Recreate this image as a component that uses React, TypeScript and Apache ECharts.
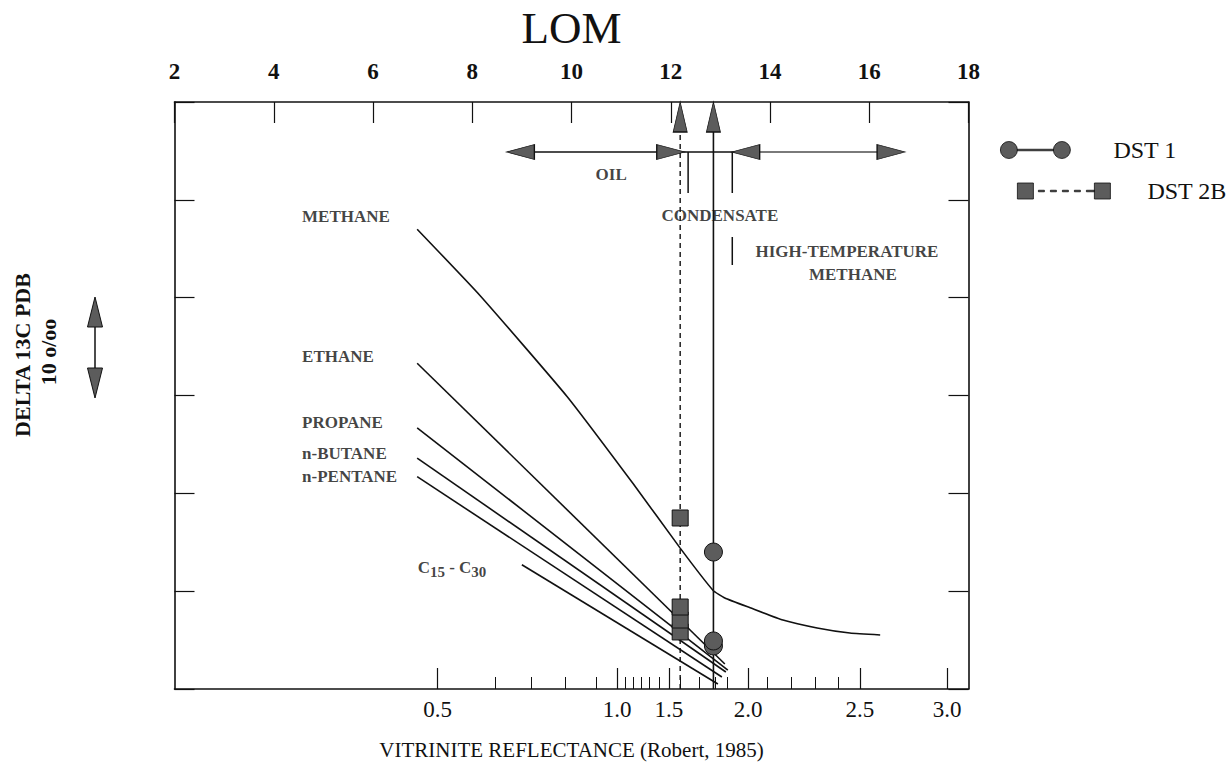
import React, { useEffect, useRef } from "react";
import * as echarts from "echarts";

// ---- Axes ----
// LOM (top, linear) and vitrinite reflectance (bottom, placed at its LOM equivalent)
const roMajorLom = [7.3, 10.92, 11.96, 13.56, 15.81, 17.57];
const roMajorLabels = ["0.5", "1.0", "1.5", "2.0", "2.5", "3.0"];
const roMinorLom = [8.47, 9.19, 9.87, 10.5, 11.08, 11.24, 11.4, 11.56, 11.77, 12.19, 12.57, 12.89, 13.13, 13.95, 14.43, 14.91, 15.37];

// ---- Isotope curves (relative delta 13C, 10 units = 10 o/oo) ----
const methaneLom = [6.89, 8.16, 9.91, 11.24, 12.19, 12.85, 13.09, 13.6, 14.26, 14.95, 15.61, 16.22];
const methaneDelta = [47.0, 40.2, 29.9, 21.0, 14.4, 10.1, 9.3, 8.3, 7.05, 6.24, 5.72, 5.52];
const ethaneLom = [6.89, 13.09];
const ethaneDelta = [33.3, 2.56];
const propaneLom = [6.89, 13.15];
const propaneDelta = [26.7, 1.94];
const butaneLom = [6.89, 13.11];
const butaneDelta = [23.6, 1.74];
const pentaneLom = [6.89, 13.03];
const pentaneDelta = [21.7, 1.23];
const c15Lom = [9.0, 12.95];
const c15Delta = [12.7, 0.51];

// ---- Measured samples ----
const dst1Lom = 12.86;
const dst1Delta = [4.4, 4.91, 14.0];
const dst2bLom = 12.19;
const dst2bDelta = [5.83, 7.05, 8.38, 17.48];
const arrowTipDelta = 58.47;

// ---- Labels ----
const curveLabelNames = ["METHANE", "ETHANE", "PROPANE", "n-BUTANE", "n-PENTANE"];
const curveLabelLom = [4.57, 4.57, 4.57, 4.57, 4.57];
const curveLabelDelta = [48.25, 33.94, 27.29, 24.12, 21.77];
const c15LabelPos = [6.9, 12.47];

const zoneLabelNames = ["OIL", "CONDENSATE", "HIGH-TEMPERATURE", "METHANE"];
const zoneLabelLom = [10.8, 12.99, 15.55, 15.67];
const zoneLabelDelta = [52.54, 48.35, 44.67, 42.32];

// ---- Maturity zone arrows ----
const zoneLevel = 54.89;
const oilArrow = [8.97, 12.0];
const condensateSpan = [12.0, 13.51];
const htArrow = [13.51, 16.44];
const condensateDrops = [12.35, 13.24];
const dropBottom = 50.7;
const htBar = [13.24, 46.2, 43.34];

const serif = '"Liberation Serif", "DejaVu Serif", serif';
const ink = "#111";
const hatch = "#5c5c5c";

const curve = (name: string, xs: number[], ys: number[]) => ({
  type: "line",
  name,
  data: xs.map((x, i) => [x, ys[i]]),
  symbol: "none",
  showSymbol: false,
  smooth: 0.15,
  lineStyle: { color: ink, width: 1.6 },
  silent: true,
  z: 3,
});

const segment = (pts: number[][], color = ink, width = 1.5) => ({
  type: "line",
  data: pts,
  symbol: "none",
  showSymbol: false,
  lineStyle: { color, width },
  silent: true,
  z: 3,
});

const arrowHead = (rot: number) => ({
  symbol: "triangle",
  symbolSize: [15, 28],
  symbolRotate: rot,
});

export default function App() {
  const ref = useRef<HTMLDivElement>(null);

  useEffect(() => {
    document.body.style.margin = "0";
    if (!ref.current) return;
    const chart = echarts.init(ref.current, null, { renderer: "svg" });

    const dst1Icon =
      "path://M0,8.5a8.5,8.5 0 1,0 17,0a8.5,8.5 0 1,0 -17,0Z M53,8.5a8.5,8.5 0 1,0 17,0a8.5,8.5 0 1,0 -17,0Z M17,7.75h36v1.5h-36Z";
    const dst2bIcon =
      "path://M0,0h16v16h-16Z M77,0h16v16h-16Z M21,7.25h6v1.5h-6Z M33,7.25h6v1.5h-6Z M45,7.25h6v1.5h-6Z M57,7.25h6v1.5h-6Z M69,7.25h8v1.5h-8Z";

    const option: any = {
      animation: false,
      backgroundColor: "#fff",
      grid: { left: 174.5, right: 261.5, top: 102, bottom: 89, containLabel: false, outerBoundsMode: "none" },
      legend: [
        {
          data: [{ name: "DST 1", icon: dst1Icon }],
          left: 995,
          top: 133,
          itemWidth: 70,
          itemHeight: 17,
          selectedMode: false,
          itemStyle: { color: hatch, borderColor: ink, borderWidth: 0.8 },
          textStyle: { fontFamily: serif, fontSize: 24, color: ink, padding: [0, 0, 0, 38] },
        },
        {
          data: [{ name: "DST 2B", icon: dst2bIcon }],
          left: 1012,
          top: 174,
          itemWidth: 93,
          itemHeight: 16,
          selectedMode: false,
          itemStyle: { color: hatch, borderColor: ink, borderWidth: 0.8 },
          textStyle: { fontFamily: serif, fontSize: 24, color: ink, padding: [0, 0, 0, 32] },
        },
      ],
      xAxis: [
        {
          type: "value",
          position: "top",
          min: 2,
          max: 18,
          interval: 2,
          name: "LOM",
          nameLocation: "middle",
          nameGap: 52,
          nameTextStyle: { fontFamily: serif, fontSize: 45, color: ink },
          axisLine: { show: true, onZero: false, lineStyle: { color: ink, width: 1.6 } },
          axisTick: { show: true, inside: true, length: 21, lineStyle: { color: ink, width: 1.2 } },
          axisLabel: { show: true, margin: 19, fontFamily: serif, fontSize: 23, fontWeight: "bold", color: ink },
          splitLine: { show: false },
        },
        {
          type: "value",
          position: "bottom",
          min: 2,
          max: 18,
          name: "VITRINITE REFLECTANCE (Robert, 1985)",
          nameLocation: "middle",
          nameGap: 50,
          nameTextStyle: { fontFamily: serif, fontSize: 21, color: ink },
          axisLine: { show: true, onZero: false, lineStyle: { color: ink, width: 1.6 } },
          axisTick: {
            show: true,
            inside: true,
            length: 21,
            customValues: roMajorLom,
            lineStyle: { color: ink, width: 1.2 },
          },
          axisLabel: {
            show: true,
            margin: 9,
            customValues: roMajorLom,
            fontFamily: serif,
            fontSize: 23,
            color: ink,
            formatter: (v: number) => {
              let best = 0;
              roMajorLom.forEach((m, i) => {
                if (Math.abs(m - v) < Math.abs(roMajorLom[best] - v)) best = i;
              });
              return roMajorLabels[best];
            },
          },
          splitLine: { show: false },
        },
        {
          type: "value",
          position: "bottom",
          offset: 0,
          min: 2,
          max: 18,
          axisLine: { show: false, onZero: false },
          axisTick: {
            show: true,
            inside: true,
            length: 12,
            customValues: roMinorLom,
            lineStyle: { color: ink, width: 1 },
          },
          axisLabel: { show: false },
          splitLine: { show: false },
        },
      ],
      yAxis: [
        {
          type: "value",
          position: "left",
          min: 0,
          max: 60,
          interval: 10,
          axisLine: { show: true, onZero: false, lineStyle: { color: ink, width: 1.6 } },
          axisTick: { show: true, inside: true, length: 20, lineStyle: { color: ink, width: 1.2 } },
          axisLabel: { show: false },
          splitLine: { show: false },
        },
        {
          type: "value",
          position: "right",
          min: 0,
          max: 60,
          interval: 10,
          axisLine: { show: true, onZero: false, lineStyle: { color: ink, width: 1.6 } },
          axisTick: { show: true, inside: true, length: 20, lineStyle: { color: ink, width: 1.2 } },
          axisLabel: { show: false },
          splitLine: { show: false },
        },
      ],
      graphic: [
        {
          type: "text",
          x: 22,
          y: 355,
          rotation: Math.PI / 2,
          style: {
            text: "DELTA 13C PDB",
            fontFamily: serif,
            fontSize: 22,
            fontWeight: "bold",
            fill: ink,
            align: "center",
            verticalAlign: "middle",
          },
        },
        {
          type: "text",
          x: 48,
          y: 352,
          rotation: Math.PI / 2,
          style: {
            text: "10 o/oo",
            fontFamily: serif,
            fontSize: 22,
            fontWeight: "bold",
            fill: ink,
            align: "center",
            verticalAlign: "middle",
          },
        },
        { type: "line", shape: { x1: 95, y1: 320, x2: 95, y2: 375 }, style: { stroke: ink, lineWidth: 1.5 } },
        {
          type: "polygon",
          shape: { points: [[95, 297], [87.5, 327], [102.5, 327]] },
          style: { fill: hatch, stroke: ink, lineWidth: 1 },
        },
        {
          type: "polygon",
          shape: { points: [[95, 398], [87.5, 368], [102.5, 368]] },
          style: { fill: hatch, stroke: ink, lineWidth: 1 },
        },
      ],
      series: [
        curve("methane", methaneLom, methaneDelta),
        curve("ethane", ethaneLom, ethaneDelta),
        curve("propane", propaneLom, propaneDelta),
        curve("butane", butaneLom, butaneDelta),
        curve("pentane", pentaneLom, pentaneDelta),
        curve("c15", c15Lom, c15Delta),
        // zone arrows
        {
          type: "line",
          data: [
            { value: [oilArrow[0], zoneLevel], ...arrowHead(90) },
            { value: [oilArrow[1], zoneLevel], ...arrowHead(-90) },
          ],
          showSymbol: true,
          lineStyle: { color: ink, width: 1.5 },
          itemStyle: { color: hatch, borderColor: ink, borderWidth: 1 },
          silent: true,
          z: 4,
        },
        segment([
          [condensateSpan[0], zoneLevel],
          [condensateSpan[1], zoneLevel],
        ]),
        {
          type: "line",
          data: [
            { value: [htArrow[0], zoneLevel], ...arrowHead(90) },
            { value: [htArrow[1], zoneLevel], ...arrowHead(-90) },
          ],
          showSymbol: true,
          lineStyle: { color: "#7a7a7a", width: 2 },
          itemStyle: { color: hatch, borderColor: ink, borderWidth: 1 },
          silent: true,
          z: 4,
        },
        segment([
          [condensateDrops[0], zoneLevel],
          [condensateDrops[0], dropBottom],
        ]),
        segment([
          [condensateDrops[1], zoneLevel],
          [condensateDrops[1], dropBottom],
        ]),
        segment([
          [htBar[0], htBar[1]],
          [htBar[0], htBar[2]],
        ]),
        // curve labels
        {
          type: "scatter",
          symbolSize: 0,
          silent: true,
          data: curveLabelNames.map((n, i) => ({ name: n, value: [curveLabelLom[i], curveLabelDelta[i]] })),
          label: {
            show: true,
            position: "right",
            distance: 0,
            formatter: "{b}",
            fontFamily: serif,
            fontSize: 17,
            fontWeight: "bold",
            color: ink,
          },
        },
        {
          type: "scatter",
          symbolSize: 0,
          silent: true,
          data: [{ name: "C15 - C30", value: c15LabelPos }],
          label: {
            show: true,
            position: "right",
            distance: 0,
            formatter: "{m|C}{s|15}{m| - C}{s|30}",
            rich: {
              m: { fontFamily: serif, fontSize: 17, fontWeight: "bold", color: ink, lineHeight: 24, verticalAlign: "middle" },
              s: { fontFamily: serif, fontSize: 15, fontWeight: "bold", color: ink, lineHeight: 14, verticalAlign: "bottom" },
            },
          },
        },
        {
          type: "scatter",
          symbolSize: 0,
          silent: true,
          data: zoneLabelNames.map((n, i) => ({ name: n, value: [zoneLabelLom[i], zoneLabelDelta[i]] })),
          label: {
            show: true,
            position: "inside",
            formatter: "{b}",
            fontFamily: serif,
            fontSize: 17,
            fontWeight: "bold",
            color: ink,
          },
        },
        // samples
        {
          name: "DST 1",
          type: "line",
          data: [
            { value: [dst1Lom, 0], symbol: "none" },
            ...dst1Delta.map((v) => ({ value: [dst1Lom, v] })),
            { value: [dst1Lom, arrowTipDelta], symbol: "triangle", symbolSize: [14, 30] },
          ],
          symbol: "circle",
          symbolSize: 18,
          showSymbol: true,
          lineStyle: { color: ink, width: 1.6 },
          itemStyle: { color: hatch, borderColor: ink, borderWidth: 1 },
          z: 6,
        },
        {
          name: "DST 2B",
          type: "line",
          data: [
            { value: [dst2bLom, 0], symbol: "none" },
            ...dst2bDelta.map((v) => ({ value: [dst2bLom, v] })),
            { value: [dst2bLom, arrowTipDelta], symbol: "triangle", symbolSize: [14, 30] },
          ],
          symbol: "rect",
          symbolSize: 16,
          showSymbol: true,
          lineStyle: { color: ink, width: 1.4, type: [5, 4] },
          itemStyle: { color: hatch, borderColor: ink, borderWidth: 1 },
          z: 6,
        },
      ],
    };

    chart.setOption(option);
    return () => chart.dispose();
  }, []);

  return <div ref={ref} style={{ width: 1230, height: 778 }} />;
}
